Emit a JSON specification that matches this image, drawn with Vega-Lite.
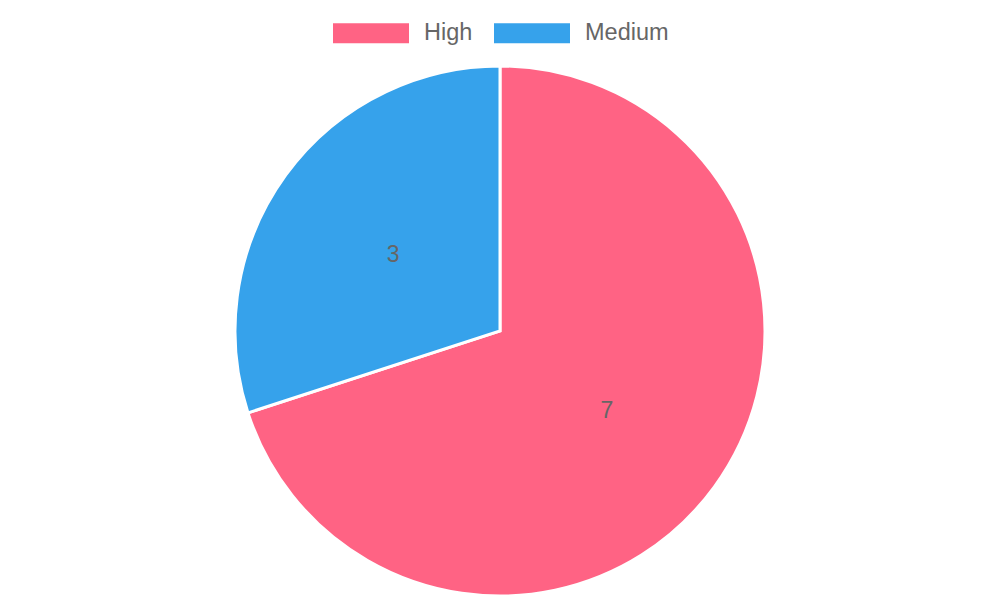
{
  "$schema": "https://vega.github.io/schema/vega-lite/v6.json",
  "description": "Pie chart of High vs Medium counts.",
  "width": 1000,
  "height": 538,
  "autosize": "none",
  "padding": {"top": 62, "left": 0, "right": 0, "bottom": 0},
  "background": "white",
  "view": {"stroke": null},
  "data": {
    "values": [
      {"level": "High", "count": 7},
      {"level": "Medium", "count": 3}
    ]
  },
  "encoding": {
    "theta": {"field": "count", "type": "quantitative", "stack": true},
    "color": {
      "field": "level",
      "type": "nominal",
      "sort": ["High", "Medium"],
      "scale": {"domain": ["High", "Medium"], "range": ["#FF6384", "#36A2EB"]},
      "legend": {
        "title": null,
        "orient": "none",
        "direction": "horizontal",
        "legendX": 333,
        "legendY": -67,
        "symbolType": "M-1,-0.263H1V0.263H-1Z",
        "symbolSize": 5776,
        "symbolStrokeWidth": 0,
        "symbolOpacity": 1,
        "labelFont": "Liberation Sans",
        "labelFontSize": 23.5,
        "labelColor": "#666666",
        "labelOffset": 15,
        "columnPadding": 21
      }
    },
    "order": {"field": "level", "sort": "ascending"}
  },
  "layer": [
    {
      "mark": {"type": "arc", "outerRadius": 265, "stroke": "white", "strokeWidth": 3}
    },
    {
      "mark": {
        "type": "text",
        "radius": 132,
        "dy": 2,
        "font": "Liberation Sans",
        "fontSize": 23
      },
      "encoding": {
        "text": {"field": "count", "type": "quantitative"},
        "color": {"value": "#666666"}
      }
    }
  ]
}
